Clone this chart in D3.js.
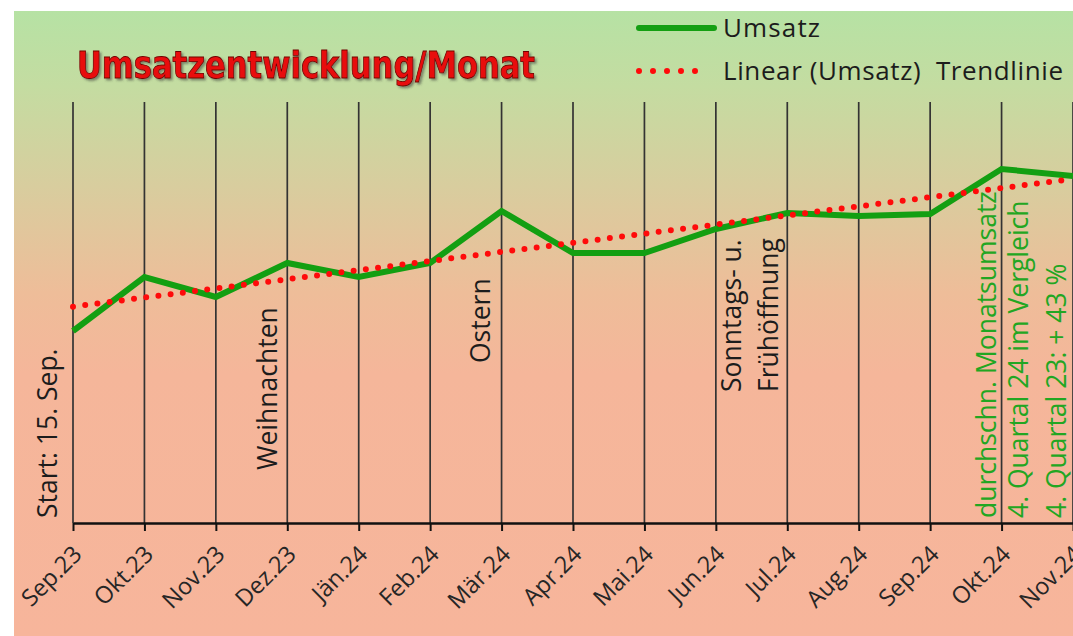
<!DOCTYPE html>
<html>
<head>
<meta charset="utf-8">
<script src="https://cdn.jsdelivr.net/npm/d3@7"></script>
<style>
  body { margin: 0; background: #fff; }
  svg text { font-family: "Open Sans", "DejaVu Sans", sans-serif; }
</style>
</head>
<body>
<svg id="chart" width="1073" height="636"></svg>
<script>
const months = ["Sep.23", "Okt.23", "Nov.23", "Dez.23", "Jän.24", "Feb.24", "Mär.24", "Apr.24",
    "Mai.24", "Jun.24", "Jul.24", "Aug.24", "Sep.24", "Okt.24", "Nov.24"];
const umsatz = [192, 246, 226, 260, 246, 260, 312, 270, 270, 294, 310, 307, 309, 354, 347];

const notesBlack = [
    {month: "Sep.23", dx: -16, y0: 518, text: "Start: 15. Sep."},
    {month: "Dez.23", dx: -10, y0: 470, text: "Weihnachten"},
    {month: "Mär.24", dx: -12, y0: 363, text: "Ostern"},
    {month: "Jun.24", dx: 25, y0: 392, text: "Sonntags- u."},
    {month: "Jul.24", dx: -9, y0: 392, text: "Frühöffnung"}
];
const notesGreen = [
    {month: "Okt.24", dx: -6, y0: 518, text: "durchschn. Monatsumsatz"},
    {month: "Okt.24", dx: 26, y0: 518, text: "4. Quartal 24 im Vergleich"},
    {month: "Okt.24", dx: 64, y0: 518, text: "4. Quartal 23: + 43 %"}
];

const svg = d3.select("#chart");
const plot = {left: 73, right: 1073, top: 102, bottom: 523};

// background gradient
const defs = svg.append("defs");
const grad = defs.append("linearGradient")
    .attr("id", "bg").attr("x1", 0).attr("y1", 0).attr("x2", 0).attr("y2", 1);
[[0, "#b6e2a4"], [0.12, "#c4dca1"], [0.28, "#d8cd9e"], [0.45, "#eebd99"], [0.58, "#f5b69a"], [1, "#f7b59b"]]
    .forEach(s => grad.append("stop").attr("offset", s[0]).attr("stop-color", s[1]));
const shadow = defs.append("filter").attr("id", "shadow")
    .attr("x", "-5%").attr("y", "-20%").attr("width", "110%").attr("height", "150%");
shadow.append("feDropShadow").attr("dx", 2).attr("dy", 2).attr("stdDeviation", 1.2)
    .attr("flood-color", "#333").attr("flood-opacity", 0.5);

svg.append("rect")
    .attr("x", 14).attr("y", 11).attr("width", 1073 - 14).attr("height", 636 - 11)
    .attr("fill", "url(#bg)");

const x = d3.scalePoint().domain(months).range([plot.left, plot.right]);
const y = d3.scaleLinear().domain([0, 421]).range([plot.bottom, plot.top]);

// vertical grid lines
svg.append("g").selectAll("line")
    .data(months).enter()
    .append("line")
        .attr("x1", d => x(d)).attr("x2", d => x(d))
        .attr("y1", plot.top).attr("y2", plot.bottom)
        .attr("stroke", "#333").attr("stroke-width", 1.7);

// x axis
const axisX = d3.axisBottom(x).tickSize(8).tickSizeOuter(0);
const axisG = svg.append("g")
    .attr("transform", `translate(0,${plot.bottom})`)
    .call(axisX);
axisG.select(".domain").attr("stroke", "#111").attr("stroke-width", 2.6);
axisG.selectAll(".tick line").attr("stroke", "#111").attr("stroke-width", 2);
axisG.selectAll(".tick text")
    .attr("font-size", 23.5)
    .attr("fill", "#262626")
    .attr("text-anchor", "end")
    .attr("transform", "translate(4,27) rotate(-45)")
    .attr("dy", "0.35em")
    .attr("y", 0);

// annotations
const addNotes = function(notes, color) {
    svg.append("g").selectAll("text")
        .data(notes).enter()
        .append("text")
            .attr("transform", d => `translate(${x(d.month) + d.dx},${d.y0}) rotate(-90)`)
            .attr("font-size", 26.5)
            .attr("fill", color)
            .text(d => d.text);
};
addNotes(notesBlack, "#1c1c1c");
addNotes(notesGreen, "#22a622");

// trend line (least squares over the monthly values)
const idx = d3.range(umsatz.length);
const mx = d3.mean(idx), my = d3.mean(umsatz);
const slope = d3.sum(idx, i => (i - mx) * (umsatz[i] - my)) / d3.sum(idx, i => (i - mx) ** 2);
const icpt = my - slope * mx;
const trend = [0, umsatz.length - 1].map(i => ({m: months[i], v: icpt + slope * i}));

const line = d3.line().x(d => x(d.m)).y(d => y(d.v));

svg.append("path")
    .datum(umsatz.map((v, i) => ({m: months[i], v: v})))
    .attr("d", line)
    .attr("fill", "none")
    .attr("stroke", "#139f12")
    .attr("stroke-width", 6)
    .attr("stroke-linejoin", "miter");

svg.append("path")
    .datum(trend)
    .attr("d", line)
    .attr("fill", "none")
    .attr("stroke", "#ff0a0a")
    .attr("stroke-width", 6)
    .attr("stroke-linecap", "round")
    .attr("stroke-dasharray", "0,12.3");

// title
svg.append("text")
    .attr("x", 77).attr("y", 78)
    .attr("font-size", 38)
    .attr("font-weight", "bold")
    .style("font-family", "'Liberation Sans Narrow', 'DejaVu Sans Condensed', sans-serif")
    .attr("textLength", 458)
    .attr("lengthAdjust", "spacingAndGlyphs")
    .attr("fill", "#e8100c")
    .attr("stroke", "#700000")
    .attr("stroke-width", 0.8)
    .attr("filter", "url(#shadow)")
    .text("Umsatzentwicklung/Monat");

// legend
const legend = svg.append("g");
legend.append("line")
    .attr("x1", 639).attr("x2", 714).attr("y1", 28).attr("y2", 28)
    .attr("stroke", "#139f12").attr("stroke-width", 6).attr("stroke-linecap", "round");
legend.append("line")
    .attr("x1", 639).attr("x2", 709).attr("y1", 71).attr("y2", 71)
    .attr("stroke", "#ff0a0a").attr("stroke-width", 6)
    .attr("stroke-linecap", "round").attr("stroke-dasharray", "0,14");
legend.append("text")
    .attr("x", 723).attr("y", 37).attr("font-size", 26).attr("fill", "#1c1c1c")
    .attr("textLength", 97)
    .text("Umsatz");
legend.append("text")
    .attr("x", 723).attr("y", 80).attr("font-size", 26).attr("fill", "#1c1c1c")
    .attr("xml:space", "preserve")
    .style("white-space", "pre")
    .attr("textLength", 340)
    .text("Linear (Umsatz)  Trendlinie");
</script>
</body>
</html>
